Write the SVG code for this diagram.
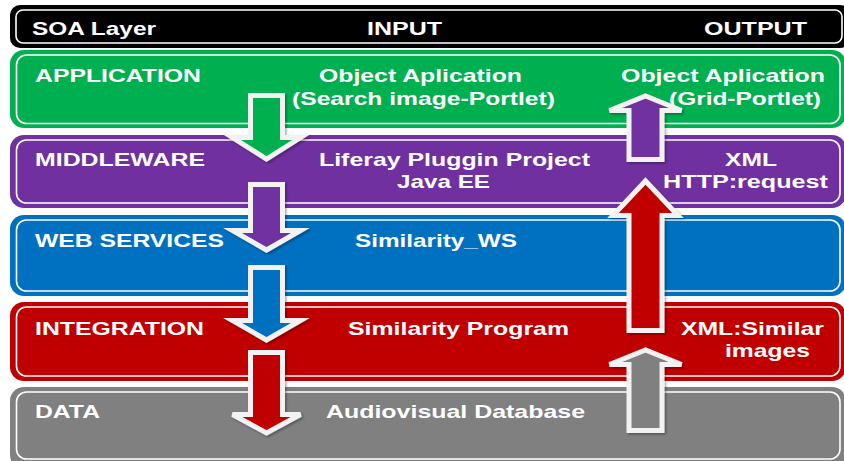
<svg xmlns="http://www.w3.org/2000/svg" width="844" height="461" viewBox="0 0 844 461">
  <style>
    .band-line { fill: none; stroke: #ffffff; stroke-width: 1.6; }
    .t { font-family: "Liberation Sans", Arial, sans-serif; font-weight: bold; font-size: 19px; fill: #ffffff; }
    .arrow { stroke: #f2f2f2; stroke-width: 5; stroke-linejoin: miter; filter: url(#shadow); }
  </style>
  <defs>
    <filter id="shadow" x="-30%" y="-30%" width="160%" height="160%">
      <feDropShadow dx="1.5" dy="1.5" stdDeviation="1" flood-color="#000000" flood-opacity="0.35"/>
    </filter>
  </defs>

  <rect width="844" height="461" fill="#ffffff"/>

  <!-- header row -->
  <g id="header">
    <rect x="10" y="5" width="840" height="43" rx="10" fill="#000000"/>
    <rect x="16" y="10" width="826" height="33" rx="7" class="band-line"/>
    <text class="t" x="32" y="35" textLength="124" lengthAdjust="spacingAndGlyphs">SOA Layer</text>
    <text class="t" x="367" y="35" textLength="75" lengthAdjust="spacingAndGlyphs">INPUT</text>
    <text class="t" x="704" y="35" textLength="103" lengthAdjust="spacingAndGlyphs">OUTPUT</text>
  </g>

  <!-- application layer -->
  <g id="application">
    <rect x="10" y="50" width="836" height="78" rx="14" fill="#00b050"/>
    <rect x="16.5" y="55" width="823.5" height="68.5" rx="10" class="band-line"/>
    <text class="t" x="35" y="82" textLength="166" lengthAdjust="spacingAndGlyphs">APPLICATION</text>
    <text class="t" x="319" y="82" textLength="203" lengthAdjust="spacingAndGlyphs">Object Aplication</text>
    <text class="t" x="292" y="105" textLength="263" lengthAdjust="spacingAndGlyphs">(Search image-Portlet)</text>
    <text class="t" x="621" y="82" textLength="204" lengthAdjust="spacingAndGlyphs">Object Aplication</text>
    <text class="t" x="669" y="105" textLength="152" lengthAdjust="spacingAndGlyphs">(Grid-Portlet)</text>
  </g>

  <!-- middleware layer -->
  <g id="middleware">
    <rect x="10" y="135" width="836" height="73" rx="14" fill="#7030a0"/>
    <rect x="16.5" y="140" width="823.5" height="63" rx="10" class="band-line"/>
    <text class="t" x="35" y="166" textLength="170" lengthAdjust="spacingAndGlyphs">MIDDLEWARE</text>
    <text class="t" x="319" y="166" textLength="271" lengthAdjust="spacingAndGlyphs">Liferay Pluggin Project</text>
    <text class="t" x="397" y="188" textLength="93" lengthAdjust="spacingAndGlyphs">Java EE</text>
    <text class="t" x="725" y="166" textLength="52" lengthAdjust="spacingAndGlyphs">XML</text>
    <text class="t" x="663" y="188" textLength="165" lengthAdjust="spacingAndGlyphs">HTTP:request</text>
  </g>

  <!-- web services layer -->
  <g id="web-services">
    <rect x="10" y="215" width="836" height="81" rx="14" fill="#0070c0"/>
    <rect x="16.5" y="220" width="823.5" height="71" rx="10" class="band-line"/>
    <text class="t" x="35" y="247" textLength="189" lengthAdjust="spacingAndGlyphs">WEB SERVICES</text>
    <text class="t" x="355" y="247" textLength="162" lengthAdjust="spacingAndGlyphs">Similarity_WS</text>
  </g>

  <!-- integration layer -->
  <g id="integration">
    <rect x="10" y="302" width="836" height="79" rx="14" fill="#c00000"/>
    <rect x="16.5" y="307" width="823.5" height="69" rx="10" class="band-line"/>
    <text class="t" x="35" y="335" textLength="169" lengthAdjust="spacingAndGlyphs">INTEGRATION</text>
    <text class="t" x="348" y="335" textLength="221" lengthAdjust="spacingAndGlyphs">Similarity  Program</text>
    <text class="t" x="681" y="335" textLength="143" lengthAdjust="spacingAndGlyphs">XML:Similar</text>
    <text class="t" x="725" y="357" textLength="85" lengthAdjust="spacingAndGlyphs">images</text>
  </g>

  <!-- data layer -->
  <g id="data">
    <rect x="10" y="387" width="836" height="82" rx="14" fill="#808080"/>
    <rect x="16.5" y="392" width="823.5" height="67" rx="10" class="band-line"/>
    <text class="t" x="35" y="418" textLength="65" lengthAdjust="spacingAndGlyphs">DATA</text>
    <text class="t" x="326" y="418" textLength="259" lengthAdjust="spacingAndGlyphs">Audiovisual Database</text>
  </g>

  <!-- block arrows: requests go down on the input side, results come up on the output side -->
  <g id="connectors">
    <path class="arrow" fill="#00b050" d="M250.5,95.5 H282.5 V137.5 H300.5 L266.5,159 L232.5,137.5 H250.5 Z"/>
    <path class="arrow" fill="#7030a0" d="M250.5,184.5 H282.5 V230.5 H300.5 L266.5,250 L232.5,230.5 H250.5 Z"/>
    <path class="arrow" fill="#0070c0" d="M250.5,267.5 H282.5 V320.5 H300.5 L266.5,340 L232.5,320.5 H250.5 Z"/>
    <path class="arrow" fill="#c00000" d="M250.5,352.5 H282.5 V414.5 H300.5 L266.5,433 L232.5,414.5 H250.5 Z"/>

    <path class="arrow" fill="#808080" d="M629,430.5 V364.5 H609.5 L645.5,350 L681.5,364.5 H662 V430.5 Z"/>
    <path class="arrow" fill="#c00000" d="M629,330.5 V215.5 H613 L645.5,181 L678,215.5 H662 V330.5 Z"/>
    <path class="arrow" fill="#7030a0" d="M629,159.5 V110.5 H609.5 L645.5,96 L681.5,110.5 H662 V159.5 Z"/>
  </g>
</svg>
